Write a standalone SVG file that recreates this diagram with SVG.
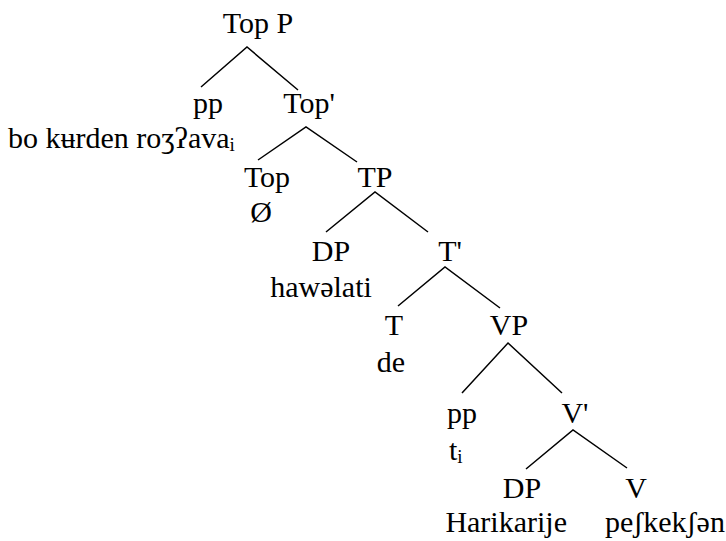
<svg xmlns="http://www.w3.org/2000/svg" width="726" height="541" viewBox="0 0 726 541">
<style>
.t{font-family:"Liberation Serif",serif;font-size:30px;fill:#000}
.sub{font-size:19px}
</style>
<rect width="726" height="541" fill="#fff"/>
<g id="connectors" stroke="#000" stroke-width="1.5" fill="none">
<path d="M201 87L247 47L298 90"/>
<path d="M258 160L306 127L357 162"/>
<path d="M326 232L375 192L428 232"/>
<path d="M398 306L445 267L500 308"/>
<path d="M462 393L508 343L562 393"/>
<path d="M526 469L573 430L627 468"/>
</g>
<g id="n-topp"><text class="t" font-family="Liberation Serif" font-size="30" text-anchor="middle" x="258" y="33">Top P</text></g>
<g id="n-pp1"><text class="t" font-family="Liberation Serif" font-size="30" text-anchor="middle" x="208" y="113">pp</text><text class="t" font-family="Liberation Serif" font-size="30" x="8" y="148">bo kʉrden roʒʔava<tspan class="sub" dy="3">i</tspan></text></g>
<g id="n-topbar"><text class="t" font-family="Liberation Serif" font-size="30" text-anchor="middle" x="309" y="113">Top'</text></g>
<g id="n-top"><text class="t" font-family="Liberation Serif" font-size="30" text-anchor="middle" x="267" y="187">Top</text><text class="t" font-family="Liberation Serif" font-size="30" text-anchor="middle" x="261" y="222">Ø</text></g>
<g id="n-tp"><text class="t" font-family="Liberation Serif" font-size="30" text-anchor="middle" x="375" y="187">TP</text></g>
<g id="n-dp1"><text class="t" font-family="Liberation Serif" font-size="30" text-anchor="middle" x="331" y="261">DP</text><text class="t" font-family="Liberation Serif" font-size="30" text-anchor="middle" x="321" y="297">hawəlati</text></g>
<g id="n-tbar"><text class="t" font-family="Liberation Serif" font-size="30" text-anchor="middle" x="450" y="261">T'</text></g>
<g id="n-t"><text class="t" font-family="Liberation Serif" font-size="30" text-anchor="middle" x="394" y="335">T</text><text class="t" font-family="Liberation Serif" font-size="30" text-anchor="middle" x="391" y="372">de</text></g>
<g id="n-vp"><text class="t" font-family="Liberation Serif" font-size="30" text-anchor="middle" x="509" y="335">VP</text></g>
<g id="n-pp2"><text class="t" font-family="Liberation Serif" font-size="30" text-anchor="middle" x="462" y="423">pp</text><text class="t" font-family="Liberation Serif" font-size="30" x="449" y="460">t<tspan class="sub" dy="3">i</tspan></text></g>
<g id="n-vbar"><text class="t" font-family="Liberation Serif" font-size="30" text-anchor="middle" x="575" y="423">V'</text></g>
<g id="n-dp2"><text class="t" font-family="Liberation Serif" font-size="30" text-anchor="middle" x="522" y="498">DP</text><text class="t" font-family="Liberation Serif" font-size="30" text-anchor="end" x="567" y="532">Harikarije</text></g>
<g id="n-v"><text class="t" font-family="Liberation Serif" font-size="30" text-anchor="middle" x="636" y="498">V</text><text class="t" font-family="Liberation Serif" font-size="30" x="605" y="532">peʃkekʃən</text></g>
</svg>
